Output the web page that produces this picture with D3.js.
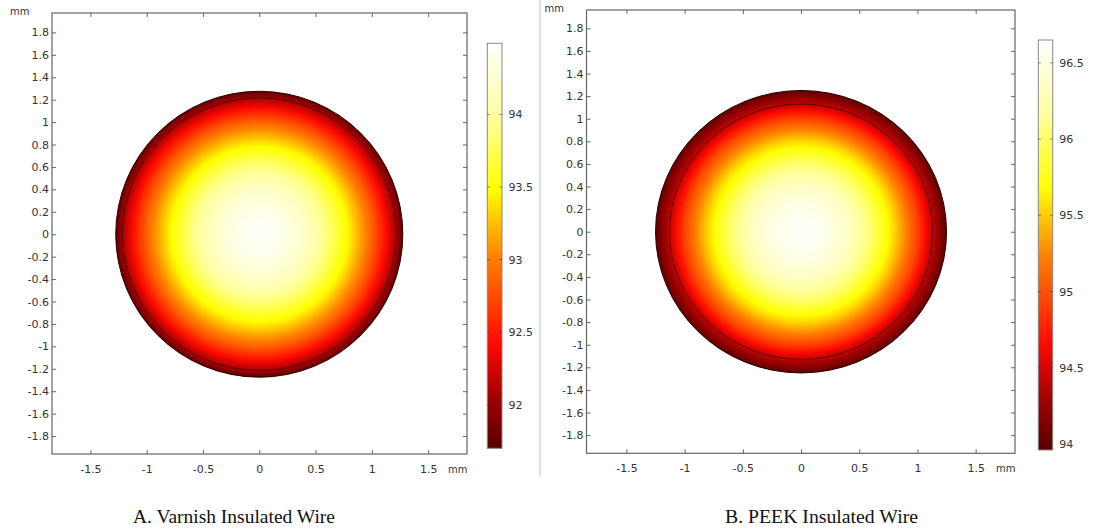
<!DOCTYPE html>
<html>
<head>
<meta charset="utf-8">
<script src="https://cdn.jsdelivr.net/npm/d3@7"></script>
<style>
  body { margin: 0; background: #fff; }
  svg { display: block; }
  .tick text { font-family: "DejaVu Sans", sans-serif; font-size: 11px; fill: #333; }
</style>
</head>
<body>
<div id="container"></div>
<script>
const width = 1097;
const height = 530;

// axis ticks (mm)
const xTicks = [-1.5, -1, -0.5, 0, 0.5, 1, 1.5];
const yTicks = [1.8, 1.6, 1.4, 1.2, 1, 0.8, 0.6, 0.4, 0.2, 0, -0.2, -0.4, -0.6, -0.8, -1, -1.2, -1.4, -1.6, -1.8];

// radial temperature profile (r in mm, T in degC)
const radiiA = [0, 0.2, 0.4, 0.6, 0.8, 1.0, 1.1, 1.215, 1.275];
const tempsA = [94.46, 94.39, 94.2, 93.88, 93.43, 92.86, 92.52, 92.08, 91.74];
const radiiB = [0, 0.2, 0.4, 0.6, 0.8, 1.0, 1.13, 1.25];
const tempsB = [96.63, 96.56, 96.36, 96.02, 95.54, 94.93, 94.42, 94.0];

const conductorA = 1.215, wireA = 1.275;
const conductorB = 1.13, wireB = 1.25;

// colour bar
const cbarRangeA = [91.70, 94.49];
const cbarRangeB = [93.96, 96.65];
const cbarTicksA = [92, 92.5, 93, 93.5, 94];
const cbarTicksB = [94, 94.5, 95, 95.5, 96, 96.5];

const captions = ['A. Varnish Insulated Wire', 'B. PEEK Insulated Wire'];

// thermal-light style colormap on 0..1
const thermal = d3.scaleLinear()
  .domain([0, 0.12, 0.26, 0.47, 0.64, 0.82, 1])
  .range(['#580000', '#9e0000', '#ff0a00', '#ff8000', '#ffff00', '#ffffa0', '#ffffff'])
  .interpolate(d3.interpolateRgb)
  .clamp(true);

const svg = d3.select('#container')
  .append('svg')
  .attr('width', width)
  .attr('height', height)
  .attr('font-family', 'DejaVu Sans, sans-serif');

const defs = svg.append('defs');

const panels = [
  {
    id: 'A', box: { left: 52, right: 467, top: 13, bottom: 454 },
    xDomain: [-1.841, 1.845], yDomain: [-1.96, 1.973],
    radii: radiiA, temps: tempsA, conductor: conductorA, wire: wireA,
    cbar: { x: 487.3, w: 14.7, top: 43.3, bottom: 448.3 },
    cRange: cbarRangeA, cTicks: cbarTicksA, caption: captions[0], capX: 133, capW: 202
  },
  {
    id: 'B', box: { left: 586.5, right: 1015, top: 10, bottom: 453.3 },
    xDomain: [-1.843, 1.838], yDomain: [-1.961, 1.962],
    radii: radiiB, temps: tempsB, conductor: conductorB, wire: wireB,
    cbar: { x: 1038.3, w: 14.4, top: 40, bottom: 450 },
    cRange: cbarRangeB, cTicks: cbarTicksB, caption: captions[1], capX: 725, capW: 193
  }
];

// plain hyphen minus like the original plots
const fmt = d => String(+d.toFixed(1));

panels.forEach(p => {
  const x = d3.scaleLinear().domain(p.xDomain).range([p.box.left, p.box.right]);
  const y = d3.scaleLinear().domain(p.yDomain).range([p.box.bottom, p.box.top]);
  const frac = d3.scaleLinear().domain(p.cRange).range([0, 1]);
  const color = t => thermal(frac(t));
  const tempAt = d3.scaleLinear().domain(p.radii).range(p.temps);

  // radial gradient for the wire cross-section
  const grad = defs.append('radialGradient').attr('id', 'grad' + p.id);
  const steps = d3.range(0, 101).map(i => i / 100);
  grad.selectAll('stop')
    .data(steps)
    .join('stop')
    .attr('offset', d => d)
    .attr('stop-color', d => color(tempAt(d * p.wire)));

  const g = svg.append('g');

  g.append('ellipse')
    .attr('cx', x(0)).attr('cy', y(0))
    .attr('rx', x(p.wire) - x(0)).attr('ry', y(0) - y(p.wire))
    .attr('fill', `url(#grad${p.id})`)
    .attr('stroke', '#2a0000')
    .attr('stroke-width', 1);

  g.append('ellipse')
    .attr('cx', x(0)).attr('cy', y(0))
    .attr('rx', x(p.conductor) - x(0)).attr('ry', y(0) - y(p.conductor))
    .attr('fill', 'none')
    .attr('stroke', '#300000')
    .attr('stroke-opacity', 0.75)
    .attr('stroke-width', 0.9);

  // frame + axes (ticks point inward)
  g.append('rect')
    .attr('x', p.box.left).attr('y', p.box.top)
    .attr('width', p.box.right - p.box.left).attr('height', p.box.bottom - p.box.top)
    .attr('fill', 'none').attr('stroke', '#666').attr('stroke-width', 1.2);

  g.append('g')
    .attr('transform', `translate(0,${p.box.bottom})`)
    .call(d3.axisBottom(x).tickValues(xTicks).tickFormat(fmt).tickSize(-4).tickPadding(11))
    .call(el => el.select('.domain').remove())
    .call(el => el.selectAll('.tick line').attr('stroke', '#666'));

  g.append('g')
    .attr('transform', `translate(0,${p.box.top})`)
    .call(d3.axisTop(x).tickValues(xTicks).tickFormat('').tickSize(-4))
    .call(el => el.select('.domain').remove())
    .call(el => el.selectAll('.tick line').attr('stroke', '#666'));

  g.append('g')
    .attr('transform', `translate(${p.box.left},0)`)
    .call(d3.axisLeft(y).tickValues(yTicks).tickFormat(fmt).tickSize(-4).tickPadding(3))
    .call(el => el.select('.domain').remove())
    .call(el => el.selectAll('.tick line').attr('stroke', '#666'));

  g.append('g')
    .attr('transform', `translate(${p.box.right},0)`)
    .call(d3.axisRight(y).tickValues(yTicks).tickFormat('').tickSize(-4))
    .call(el => el.select('.domain').remove())
    .call(el => el.selectAll('.tick line').attr('stroke', '#666'));

  g.append('text')
    .attr('x', p.box.left - 42).attr('y', p.box.top + 2)
    .attr('font-size', 10).attr('fill', '#333')
    .text('mm');

  g.append('text')
    .attr('x', p.box.right - 19).attr('y', p.box.bottom + 19)
    .attr('font-size', 10).attr('fill', '#333')
    .text('mm');

  // colour bar
  const cb = p.cbar;
  const cy = d3.scaleLinear().domain(p.cRange).range([cb.bottom, cb.top]);
  const lg = defs.append('linearGradient')
    .attr('id', 'cbar' + p.id)
    .attr('x1', 0).attr('y1', 1).attr('x2', 0).attr('y2', 0);
  lg.selectAll('stop')
    .data(steps)
    .join('stop')
    .attr('offset', d => d)
    .attr('stop-color', d => thermal(d));

  g.append('rect')
    .attr('x', cb.x).attr('y', cb.top)
    .attr('width', cb.w).attr('height', cb.bottom - cb.top)
    .attr('fill', `url(#cbar${p.id})`)
    .attr('stroke', '#888').attr('stroke-width', 1);

  g.append('g')
    .attr('transform', `translate(${cb.x + cb.w},0)`)
    .call(d3.axisRight(cy).tickValues(p.cTicks).tickFormat(fmt).tickSize(0).tickPadding(6.5))
    .call(el => el.select('.domain').remove());

  g.append('g')
    .selectAll('path')
    .data(p.cTicks)
    .join('path')
    .attr('d', d => `M${cb.x},${cy(d)}h2.5M${cb.x + cb.w - 2.5},${cy(d)}h2.5`)
    .attr('stroke', '#333').attr('stroke-opacity', 0.6).attr('stroke-width', 1);

  // caption
  svg.append('text')
    .attr('x', p.capX).attr('y', 523)
    .attr('font-family', 'Liberation Serif, serif')
    .attr('font-size', 18.5)
    .attr('textLength', p.capW)
    .attr('lengthAdjust', 'spacingAndGlyphs')
    .attr('fill', '#111')
    .text(p.caption);
});

// separator between the two panels
svg.append('line')
  .attr('x1', 540).attr('x2', 540)
  .attr('y1', 0).attr('y2', 476)
  .attr('stroke', '#c3d9ee').attr('stroke-width', 1.5);
</script>
</body>
</html>
